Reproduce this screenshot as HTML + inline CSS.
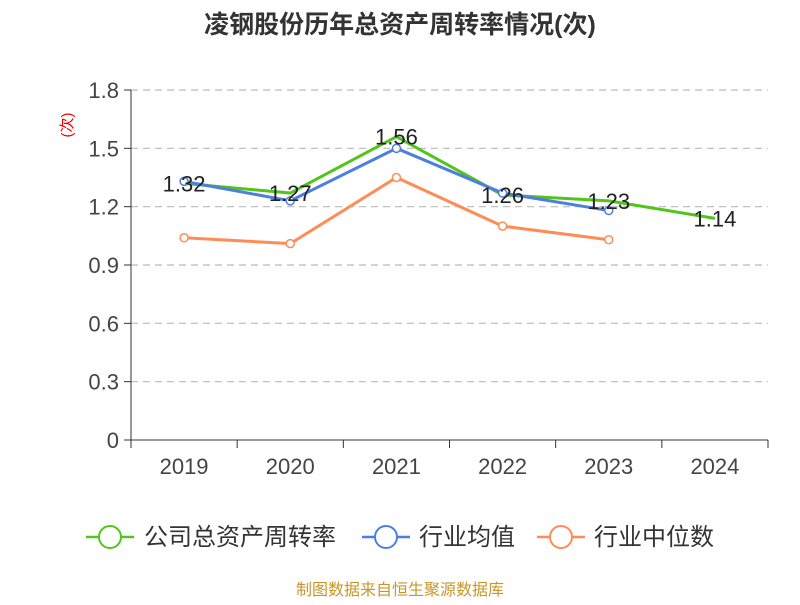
<!DOCTYPE html>
<html><head><meta charset="utf-8"><style>
body{margin:0;background:#fff;font-family:"Liberation Sans","Noto Sans CJK SC",sans-serif}
</style></head><body>
<svg id="chart" width="800" height="600" xmlns="http://www.w3.org/2000/svg" font-family="Liberation Sans, Noto Sans CJK SC, sans-serif">
<text x="400" y="33" text-anchor="middle" font-size="25" font-weight="bold" fill="#333">凌钢股份历年总资产周转率情况(次)</text>
<text x="72" y="125" text-anchor="middle" font-size="15" fill="#e00" transform="rotate(-90 72 125)">(次)</text>
<g id="grid"></g><g id="axes"></g><g id="series"></g>
<g font-size="24" fill="#333">
<g><line x1="86" y1="537" x2="134" y2="537" stroke="#52c41a" stroke-width="2.5"/><circle cx="110" cy="537" r="11" fill="#fff" stroke="#52c41a" stroke-width="2"/><text x="144" y="545">公司总资产周转率</text></g>
<g><line x1="362" y1="537" x2="410" y2="537" stroke="#4e7fe0" stroke-width="2.5"/><circle cx="386" cy="537" r="11" fill="#fff" stroke="#4e7fe0" stroke-width="2"/><text x="419" y="545">行业均值</text></g>
<g><line x1="537" y1="537" x2="585" y2="537" stroke="#ff8c55" stroke-width="2.5"/><circle cx="561" cy="537" r="11" fill="#fff" stroke="#ff8c55" stroke-width="2"/><text x="594" y="545">行业中位数</text></g>
</g>
<text x="400" y="595" text-anchor="middle" font-size="16" fill="#c8962a">制图数据来自恒生聚源数据库</text>
</svg>
<script>
const categories=["2019","2020","2021","2022","2023","2024"];
const companyValues=[1.32,1.27,1.56,1.26,1.23,1.14];
const industryAvg=[1.33,1.23,1.50,1.27,1.18,null];
const industryMedian=[1.04,1.01,1.35,1.10,1.03,null];
const yTicks=[0,0.3,0.6,0.9,1.2,1.5,1.8];
const NS="http://www.w3.org/2000/svg";
const x0=131,x1=768,yBase=440,yTop=90,yMax=1.8;
const bw=(x1-x0)/categories.length;
const X=i=>x0+bw*(i+0.5);
const Y=v=>yBase-(v/yMax)*(yBase-yTop);
function mk(t,a,p){const e=document.createElementNS(NS,t);for(const k in a)e.setAttribute(k,a[k]);p.appendChild(e);return e;}
const grid=document.getElementById('grid'),axes=document.getElementById('axes'),ser=document.getElementById('series');
yTicks.forEach(v=>{
 if(v>0){const g=mk('line',{x1:x0,x2:x1,y1:Y(v),y2:Y(v),stroke:'#bbb','stroke-dasharray':'7,5','stroke-width':1.2},grid);
 
 }
 const tk=mk('line',{x1:x0-7,x2:x0,y1:Y(v),y2:Y(v),stroke:'#333'},axes);
 
 
 const t=mk('text',{x:x0-12,y:Y(v)+8,'text-anchor':'end','font-size':22,fill:'#444'},axes);t.textContent=v===0?'0':v.toFixed(1);
 
 
});
const ya=mk('line',{x1:x0,x2:x0,y1:yTop,y2:yBase,stroke:'#333'},axes);


const xa=mk('line',{x1:x0,x2:x1,y1:yBase,y2:yBase,stroke:'#333'},axes);


for(let i=0;i<=categories.length;i++){const t=mk('line',{x1:x0+bw*i,x2:x0+bw*i,y1:yBase,y2:yBase+8,stroke:'#333'},axes);
 
 }
categories.forEach((c,i)=>{const t=mk('text',{x:X(i),y:474,'text-anchor':'middle','font-size':22,fill:'#444'},axes);t.textContent=c;
 
 });
function drawLine(vals,color,name,markers){
 const pts=vals.map((v,i)=>v==null?null:[X(i),Y(v)]).filter(p=>p);
 const pl=mk('polyline',{points:pts.map(p=>p.join(',')).join(' '),fill:'none',stroke:color,'stroke-width':3},ser);
 
 
 if(markers)pts.forEach(p=>{const c=mk('circle',{cx:p[0],cy:p[1],r:4,fill:'#fff',stroke:color,'stroke-width':1.5},ser);
 
 });
}
drawLine(industryMedian,'#ff8c55','industry-median',true);
drawLine(companyValues,'#52c41a','company',false);
drawLine(industryAvg,'#4e7fe0','industry-avg',true);
companyValues.forEach((v,i)=>{const t=mk('text',{x:X(i),y:Y(v)+8,'text-anchor':'middle','font-size':22,fill:'#222'},ser);t.textContent=v.toFixed(2);
 
 });
</script>
</body></html>
